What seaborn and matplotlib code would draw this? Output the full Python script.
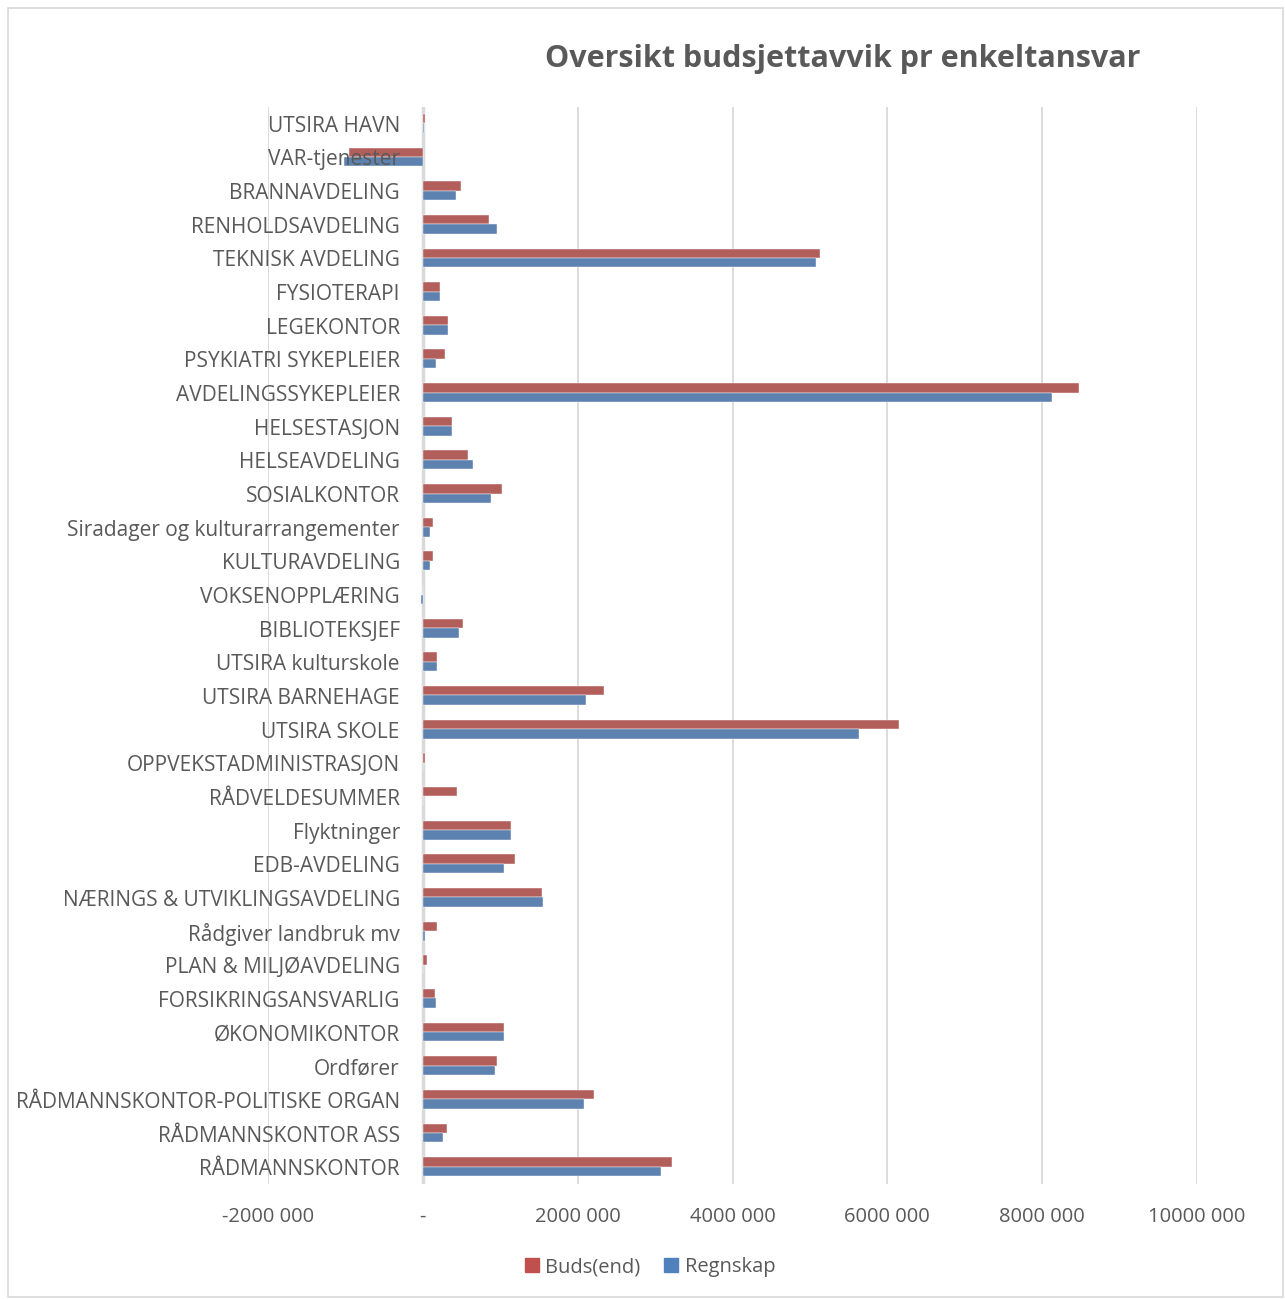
import numpy as np
import pandas as pd
import matplotlib
matplotlib.use("Agg")
from matplotlib import pyplot as plt
from matplotlib import patches, transforms
import seaborn as sns

# data (NOK), top to bottom
categories = [
    "UTSIRA HAVN", "VAR-tjenester", "BRANNAVDELING", "RENHOLDSAVDELING",
    "TEKNISK AVDELING", "FYSIOTERAPI", "LEGEKONTOR", "PSYKIATRI SYKEPLEIER",
    "AVDELINGSSYKEPLEIER", "HELSESTASJON", "HELSEAVDELING", "SOSIALKONTOR",
    "Siradager og kulturarrangementer", "KULTURAVDELING", "VOKSENOPPLÆRING",
    "BIBLIOTEKSJEF", "UTSIRA kulturskole", "UTSIRA BARNEHAGE", "UTSIRA SKOLE",
    "OPPVEKSTADMINISTRASJON", "RÅDVELDESUMMER", "Flyktninger", "EDB-AVDELING",
    "NÆRINGS & UTVIKLINGSAVDELING", "Rådgiver landbruk mv", "PLAN & MILJØAVDELING",
    "FORSIKRINGSANSVARLIG", "ØKONOMIKONTOR", "Ordfører",
    "RÅDMANNSKONTOR-POLITISKE ORGAN", "RÅDMANNSKONTOR ASS", "RÅDMANNSKONTOR",
]
buds_end = [
    25000, -950000, 490000, 857000,
    5130000, 224000, 323000, 284000,
    8476000, 375000, 581000, 1021000,
    125000, 125000, 0,
    521000, 177000, 2339000, 6150000,
    25000, 439000, 1137000, 1185000,
    1533000, 177000, 60000,
    155000, 1051000, 952000,
    2213000, 306000, 3221000,
]
regnskap = [
    20000, -1020000, 422000, 952000,
    5077000, 224000, 323000, 168000,
    8127000, 375000, 646000, 879000,
    90000, 90000, -30000,
    469000, 177000, 2106000, 5633000,
    0, 0, 1137000, 1051000,
    1550000, 25000, 0,
    168000, 1051000, 934000,
    2080000, 262000, 3075000,
]
series = ["Buds(end)", "Regnskap"]
colors = ["#C0504D", "#4F81BD"]
xticks = [-2000000, 0, 2000000, 4000000, 6000000, 8000000, 10000000]
xtick_labels = ["-2000 000", "-", "2000 000", "4000 000", "6000 000", "8000 000", "10000 000"]

df = pd.DataFrame({
    "ansvar": categories * 2,
    "serie": [series[0]] * len(categories) + [series[1]] * len(categories),
    "belop": buds_end + regnskap,
})

sns.set_theme(style="white")
plt.rcParams["font.family"] = ["Open Sans", "DejaVu Sans"]
grey = "#595959"

fig = plt.figure(figsize=(12.85, 12.99), dpi=100)
ax = fig.add_axes([268 / 1285, 1 - 1183.5 / 1299, (1197 - 268) / 1285, (1183.5 - 106.5) / 1299])

sns.barplot(data=df, y="ansvar", x="belop", hue="serie", order=categories,
            hue_order=series, palette=colors, width=0.56, orient="y",
            edgecolor="white", linewidth=0.3, ax=ax)

ax.set_xlim(-2000000, 10000000)
ax.set_xticks(xticks)
ax.set_xticklabels(xtick_labels, fontsize=14.5, color=grey)
ax.tick_params(axis="x", length=0, pad=17)
ax.set_yticks([])
ax.set_xlabel("")
ax.set_ylabel("")
for s in ax.spines.values():
    s.set_visible(False)
ax.grid(axis="x", color="#D9D9D9", linewidth=1.3)
ax.set_axisbelow(True)
ax.axvline(0, color="#D9D9D9", linewidth=2.5, zorder=0.5)

# category labels sit next to the zero line, like Excel does
trans = transforms.blended_transform_factory(ax.transData, ax.transData) + \
    transforms.ScaledTranslation(-23 / 100, -3 / 100, fig.dpi_scale_trans)
for i, name in enumerate(categories):
    ax.text(0, i, name, transform=trans, ha="right", va="center",
            fontsize=15, color=grey, zorder=5)

ax.legend_.remove()
handles = [patches.Patch(color=c) for c in colors]
fig.legend(handles, series, loc="center", bbox_to_anchor=(650 / 1285, 1 - 1267 / 1299),
           ncol=2, frameon=False, fontsize=14.5, handlelength=0.7, handleheight=0.7,
           handletextpad=0.3, columnspacing=1.2, labelcolor=grey)

fig.text(843 / 1285, 1 - 59 / 1299, "Oversikt budsjettavvik pr enkeltansvar",
         ha="center", va="center", fontsize=22, fontweight="bold", color=grey)

fig.patches.append(patches.Rectangle((8 / 1285, 2 / 1299), 1275 / 1285, 1289 / 1299,
                                     transform=fig.transFigure, fill=False,
                                     edgecolor="#D9D9D9", linewidth=1.2))

fig.savefig("out.png", dpi=100)
